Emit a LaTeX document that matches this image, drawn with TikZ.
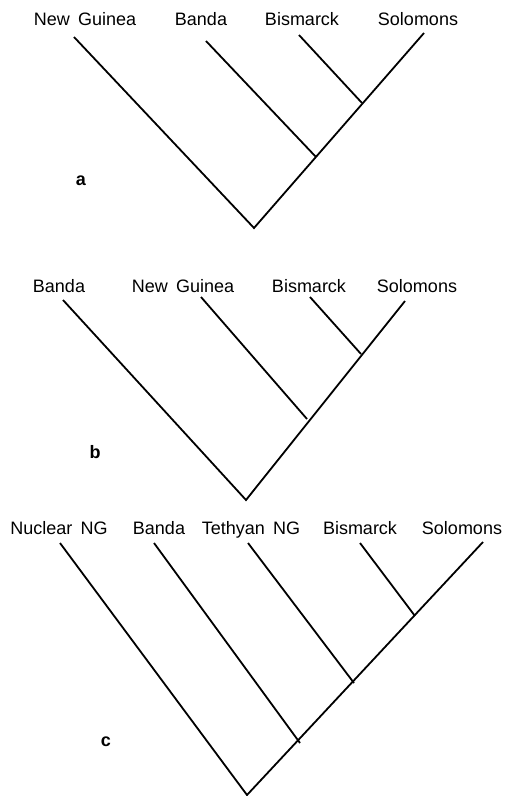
\documentclass[tikz,border=0pt]{standalone}
\usepackage{fontspec}
\setmainfont{Liberation Sans}
\usepackage{tikz}

\newcommand{\taxonfont}{\fontsize{18}{20}\selectfont\spaceskip=0.45em\relax}

\begin{document}
\begin{tikzpicture}[x=1pt, y=-1pt, line width=1.8pt,
		taxon/.style={anchor=base, inner sep=0pt, font=\taxonfont},
		panel/.style={inner sep=0pt, font=\fontsize{18}{20}\selectfont\bfseries}]
			\useasboundingbox (0,0) rectangle (506,796);

			% Cây a
			\node[taxon] (aNG) at (85,25) {New Guinea};
			\node[taxon] (aBa) at (201,25) {Banda};
			\node[taxon] (aBi) at (302,25) {Bismarck};
			\node[taxon] (aSo) at (418,25) {Solomons};
			\node[panel] (alab) at (81,181) {a};
			\coordinate (aNGt) at (74,37);
			\coordinate (aBat) at (206,41);
			\coordinate (aBit) at (299,35);
			\coordinate (aSot) at (424,33);
			\coordinate (aroot) at (254,228);
			\coordinate (aj1) at (316,157);
			\coordinate (aj2) at (362,103);
			\draw (aNGt) -- (aroot) -- (aSot);
			\draw (aBat) -- (aj1);
			\draw (aBit) -- (aj2);

			% Cây b
			\node[taxon] (bBa) at (59,292) {Banda};
			\node[taxon] (bNG) at (183,292) {New Guinea};
			\node[taxon] (bBi) at (309,292) {Bismarck};
			\node[taxon] (bSo) at (417,292) {Solomons};
			\node[panel] (blab) at (95,452) {b};
			\coordinate (bBat) at (63,300);
			\coordinate (bNGt) at (201,297);
			\coordinate (bBit) at (310,297);
			\coordinate (bSot) at (405,301);
			\coordinate (broot) at (246,500);
			\coordinate (bj1) at (307,419);
			\coordinate (bj2) at (361,354);
			\draw (bBat) -- (broot) -- (bSot);
			\draw (bNGt) -- (bj1);
			\draw (bBit) -- (bj2);

			% Cây c
			\node[taxon] (cNN) at (59,534) {Nuclear NG};
			\node[taxon] (cBa) at (159,534) {Banda};
			\node[taxon] (cTN) at (251,534) {Tethyan NG};
			\node[taxon] (cBi) at (360,534) {Bismarck};
			\node[taxon] (cSo) at (462,534) {Solomons};
			\node[panel] (clab) at (106,742) {c};
			\coordinate (cNNt) at (60,543);
			\coordinate (cBat) at (154,543);
			\coordinate (cTNt) at (248,543);
			\coordinate (cBit) at (360,543);
			\coordinate (cSot) at (483,542);
			\coordinate (croot) at (247,795);
			\coordinate (cj1) at (300,743);
			\coordinate (cj2) at (354,683);
			\coordinate (cj3) at (415,616);
			\draw (cNNt) -- (croot) -- (cSot);
			\draw (cBat) -- (cj1);
			\draw (cTNt) -- (cj2);
			\draw (cBit) -- (cj3);
		\end{tikzpicture}
\end{document}
